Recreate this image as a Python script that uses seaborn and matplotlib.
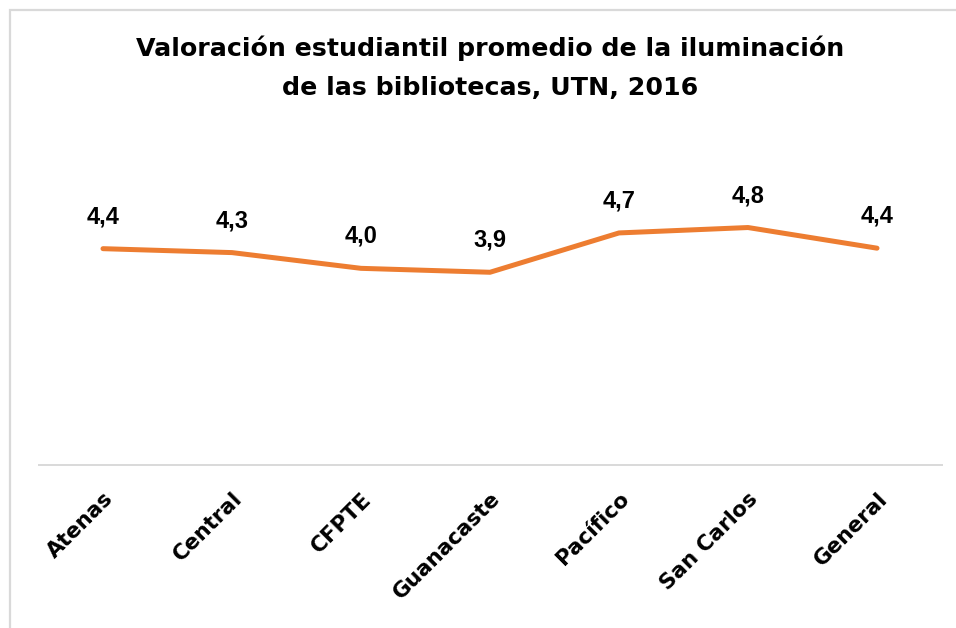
import matplotlib
matplotlib.use("Agg")
import matplotlib.pyplot as plt
import seaborn as sns
import pandas as pd
from matplotlib.patches import Rectangle

sedes = ["Atenas", "Central", "CFPTE", "Guanacaste", "Pacífico", "San Carlos", "General"]
valores = [4.40, 4.32, 4.00, 3.92, 4.72, 4.83, 4.41]
etiquetas = ["4,4", "4,3", "4,0", "3,9", "4,7", "4,8", "4,4"]
titulo_1 = "Valoración estudiantil promedio de la iluminación"
titulo_2 = "de las bibliotecas, UTN, 2016"

df = pd.DataFrame({"sede": sedes, "valor": valores})
df["pos"] = range(len(sedes))

sns.set_theme(style="white")
plt.rcParams["font.family"] = ["DejaVu Sans"]

W, H = 956, 628
fig = plt.figure(figsize=(W / 100, H / 100), dpi=100)
fig.patch.set_facecolor("white")

# outer border (cropped at right/bottom)
fig.patches.append(Rectangle((9.5 / W, -0.1), 1.2, 1 - 10.5 / H + 0.1,
                             transform=fig.transFigure, fill=False,
                             edgecolor="#D9D9D9", linewidth=1.6))

ax = fig.add_axes([38.5 / W, (H - 465) / H, (941.5 - 38.5) / W, (465 - 170) / H])
sns.lineplot(data=df, x="pos", y="valor", ax=ax, color="#ED7D31",
             linewidth=3.6, solid_capstyle="round", solid_joinstyle="round")
ax.set_xlim(-0.5, len(sedes) - 0.5)
ax.set_ylim(0, 6)
ax.set_yticks([])
ax.set_xticks(range(len(sedes)))
ax.set_xticklabels(sedes, rotation=45, ha="right", rotation_mode="anchor",
                   fontsize=15.5, fontweight="bold", color="black")
ax.tick_params(axis="x", length=0, pad=17)
ax.set_xlabel("")
ax.set_ylabel("")
for s in ["top", "right", "left"]:
    ax.spines[s].set_visible(False)
ax.spines["bottom"].set_color("#D9D9D9")
ax.spines["bottom"].set_linewidth(1.4)
ax.patch.set_alpha(0)

for x, y, t in zip(df["pos"], df["valor"], etiquetas):
    ax.annotate(t, (x, y), xytext=(0, 23), textcoords="offset points",
                ha="center", va="center", fontsize=17, fontweight="bold",
                family=["Liberation Sans", "DejaVu Sans"], color="black")

fig.text(490 / W, 1 - 48 / H, titulo_1, ha="center", va="center",
         fontsize=18.2, fontweight="bold", color="black")
fig.text(490 / W, 1 - 88 / H, titulo_2, ha="center", va="center",
         fontsize=18.2, fontweight="bold", color="black")

fig.savefig("out.png", dpi=100, facecolor="white")
